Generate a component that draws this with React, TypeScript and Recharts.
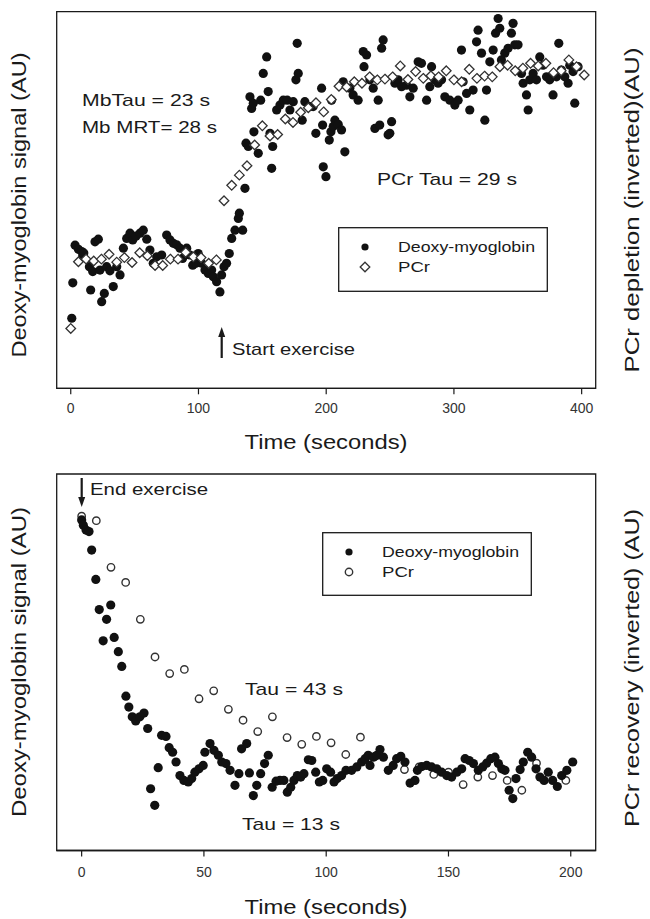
import React from "react";
import { ScatterChart, Scatter, XAxis, YAxis, Legend, ReferenceArea } from "recharts";

// exercise onset (top panel)
const exerciseMbTime = [
  0.8, 1.6, 3.4, 6, 8.6, 9.4, 10.2, 14.6, 15.6, 17.2, 19, 21.6, 22.9, 24.2, 26.3, 28.1, 30.7, 33.3, 36, 38.6,
  41.2, 43.8, 46.4, 48.5, 51.1, 54.2, 56.8, 59.5, 62, 64.6, 67.3, 71.2, 75.1, 77.7, 80.3, 82.9, 85.5, 87.6, 90.8, 93.3,
  95.5, 98, 99.8, 102.5, 105.1, 107.7, 110.3, 111.6, 114.2, 116.8, 118.1, 120, 122, 124.1, 126, 128.6, 131.2, 132, 134.6, 136.4,
  137.2, 139, 140.3, 141.6, 142.9, 143.4, 146.8, 148.7, 150.7, 153.4, 154.6, 156, 157.3, 158.1, 161.2, 163.8, 166.4, 169.5, 171.6, 174.2,
  176.3, 177.3, 178.1, 181.2, 183.3, 187.2, 189.8, 191.9, 196.4, 197.2, 197.7, 199.8, 202.4, 203.7,
  204.2, 205.5, 206.8, 209.4, 212, 213.3, 214.6, 218.5, 221.1, 225, 229, 229.6, 231.6, 234.2, 236.8, 238.1, 240.7, 241.9, 243.4, 244.6,
  248.5, 249.8, 251.2, 253.8, 256.3, 259, 262.9, 265.5, 268.1, 272, 274.6, 278.6, 281.1, 282.5, 285, 287.6, 290.3, 292.9, 296.8, 300.7,
  303.3, 305.9, 307.2, 309.9, 312.4, 315, 317.7, 318.9, 321.6, 324.2, 325.5, 328.1, 330.7, 332.6, 334.6, 335.9, 337.2, 339.8, 342.4, 345,
  346.3, 347.7, 350.2, 352.9, 354.2, 356.8, 358.1, 359.4, 362, 364.6, 367.2, 369.8, 372.5, 375, 377.6, 380.3, 382.1, 384.2, 386.8, 389.4,
  390.7, 393.3, 394.6, 397.2,
];
const exerciseMbSignal = [
  18.6, 28, 38, 36.9, 36.3, 35.1, 35.9, 32.3, 26.1, 31, 38.9, 39.6, 31.4, 23, 25.2, 32.3, 31.2, 27, 32.3, 30.1,
  37.2, 39.8, 41.2, 39.4, 40.4, 41.2, 42, 39.6, 36.7, 33.2, 34.9, 35.4, 40.7, 39.4, 38.5, 38.1, 37.2, 34.5, 37.2, 35.4,
  32.7, 33.2, 35.8, 33.2, 31.4, 30.5, 31.4, 29.6, 28.3, 25.6, 30.1, 32.3, 33.2, 35.8, 39.8, 42, 45.1, 46.5, 42, 53.1,
  65.1, 64.2, 77.4, 74.3, 75.7, 68.1, 62.4, 76.5, 83.6, 88, 78.8, 67.7, 58.4, 64.2, 73.9, 75.2, 76.5, 76.5, 73.9, 76.1,
  81.9, 91.6, 83.6, 71.2, 76.1, 74.8, 74.8, 67.7, 79.7, 69.9, 58.8, 56.2, 65.9, 68.1,
  76.5, 69.5, 71.2, 70.1, 68.6, 81.4, 62.8, 79.7, 77.9, 76.5, 89.4, 85.4, 88.5, 81.9, 79.7, 69, 76.5, 69.9, 90.3, 92.5,
  67.3, 67.7, 70.8, 81, 81.9, 80.1, 80.5, 77.4, 79.7, 86.7, 86.3, 76.5, 80.1, 85.4, 81.9, 81, 81.9, 77.4, 76.5, 75.2,
  76.5, 89.8, 81.4, 78.3, 73.9, 79.2, 92, 95.1, 89, 71.2, 79.2, 86.7, 89.8, 94.3, 98.2, 95.6, 87.2, 89, 90.3, 94.3,
  96.9, 91.2, 91.2, 83.6, 81, 77.9, 73.9, 81.9, 83.6, 81.9, 88, 85.8, 82.7, 81.9, 77.9, 82.7, 91.6, 84.5, 82.7, 81,
  85.8, 84.1, 75.7, 85.4,
];
const exercisePcrTime = [
  0, 6, 12, 18, 24, 30, 36, 42, 48, 54, 60, 66, 72, 78, 84, 90, 96, 102, 108, 114,
  120, 126, 132, 138, 144, 150, 156, 162, 168, 174, 180, 186, 192, 198, 204, 210, 216, 222, 228, 234,
  240, 246, 252, 258, 264, 270, 276, 282, 288, 294, 300, 306, 312, 318, 324, 330, 336, 342, 348, 354,
  360, 366, 372, 378, 384, 390, 396, 402,
];
const exercisePcrSignal = [
  15.9, 33.6, 34.3, 33.8, 34.3, 35.6, 33.5, 34.7, 33.4, 36, 35.2, 32.6, 32.6, 34.3, 34.3, 36.1, 34.9, 34.7, 33.2, 34.1,
  49.8, 53.9, 56.6, 59.1, 64.6, 69.7, 67, 67.4, 71.5, 70.6, 73.3, 74.5, 75.8, 73.4, 76.7, 80.2, 80, 81.4, 81, 82.7,
  81.9, 82.1, 82.7, 85.6, 82, 84.1, 82.3, 83, 82.7, 84.3, 81.9, 81.4, 84.7, 82.3, 82.9, 82.7, 85.4, 85.8, 84.3, 85,
  86.3, 85.6, 86.3, 83.8, 84.3, 87.2, 85.4, 83.2,
];
const exerciseTicks = [0, 100, 200, 300, 400];

// recovery (bottom panel)
const recoveryMbTime = [
  0, 0.7, 1.8, 3, 4.1, 5.8, 7.2, 8.8, 10.2, 11.9, 13.3, 15, 16.4, 18.1, 19.3, 20.7, 22.1, 23.8, 25.5, 27,
  28.2, 29.9, 31.3, 32.7, 34.5, 35.8, 37.2, 38.6, 40.2, 41.8, 43.6, 45, 46.3, 48, 49.7, 50.4, 52.5, 54.1, 55.9, 57.3,
  59, 60.7, 62.7, 64.3, 65.4, 67.5, 68.6, 70.2, 71.6, 73.2, 74.8, 76.3, 77.9, 79.5, 81.1, 82.7, 84.1, 85.5, 86.8, 88.2,
  89.6, 90.9, 92.7, 94.1, 95.7, 97.2, 98.6, 100.2, 101.8, 103.2, 104.5, 106.3, 108.1, 110.4, 112.5, 114.5, 115.9, 117.2, 117.9, 119.3,
  120.7, 122, 123.4, 125.4, 127.4, 128.8, 130.5, 132.2, 134.3, 136.3, 137.3, 139.1, 141.1, 143.1, 145.2, 147.2, 149.3, 151.3, 153.4, 155.4,
  156.8, 158.5, 160.2, 162.2, 164, 165.6, 167.3, 169, 170.4, 171.8, 173.1, 174.8, 176.3, 177.6, 179.3, 180.6, 182.4, 184, 185.8, 187.4,
  189.1, 190.8, 192.6, 194.5, 196.3, 198.4, 200.8,
];
const recoveryMbSignal = [
  87.8, 86.4, 85.1, 84.7, 79.8, 72, 64, 55.7, 61.4, 65.2, 56.6, 52.8, 48.9, 41, 38.1, 35.5, 34.4, 35.5, 36.5, 32.4,
  16.4, 12, 22, 30.6, 30.3, 27.3, 26.1, 23.5, 19.9, 18.6, 18.2, 19.1, 20.8, 21.7, 22.6, 26.1, 28.4, 26.6, 25.3, 23.5,
  23.1, 21.3, 17.3, 20.4, 27, 28.4, 20.6, 14.6, 17.3, 20.4, 23.1, 25.3, 16.8, 18.4, 18.6, 18.6, 15.5, 16.8, 18.6, 19.9,
  19.5, 20.4, 24.1, 23.9, 20.8, 18.2, 18.6, 21.7, 20.8, 18.2, 19.1, 19.9, 21.3, 21.3, 22.2, 23.5, 24.4, 25.3, 22.6, 24.8,
  25.3, 26.8, 24.8, 21.3, 22.6, 24.4, 25, 23.5, 17.9, 18.6, 21.3, 22.3, 22.6, 22.2, 21.7, 20.8, 19.9, 19.5, 20.8, 21.7,
  24.4, 23.9, 23.1, 21.3, 22.2, 23.2, 24.4, 24.8, 23.1, 21.7, 21.3, 16, 13.8, 19.1, 21.5, 23.5, 26.1, 24.8, 21.7, 19.5,
  18.6, 20.8, 18.6, 17, 19.9, 21.3, 23.5,
];
const recoveryPcrTime = [
  0, 6, 12, 18, 24, 30, 36, 42, 48, 54, 60, 66, 72, 78, 84, 90, 96, 102, 108, 114,
  120, 132, 138, 144, 150, 156, 162, 168, 174, 180, 186, 198,
];
const recoveryPcrSignal = [
  88.8, 87.6, 75.2, 71.2, 61.4, 51.4, 47, 48.1, 40.3, 42.4, 37.5, 34.6, 31.6, 35.5, 30, 28.2, 30.3, 28.6, 25.5, 30.1,
  25, 21.5, 22.2, 20.2, 20.8, 17.5, 19.5, 19.9, 18.6, 16, 23.2, 18.6,
];
const recoveryTicks = [0, 50, 100, 150, 200];

const seriesNames = ["Deoxy-myoglobin", "PCr"];

const FONT = "'Liberation Sans', Arial, sans-serif";
const INK = "#1a1a1a";

const zip = (t: number[], v: number[]) => t.map((x, i) => ({ t: x, v: v[i] }));

const Dot = (p: any) => <circle cx={p.cx} cy={p.cy} r={4.6} fill="#111" />;
const SmallDot = (p: any) => <circle cx={p.cx} cy={p.cy} r={3.6} fill="#111" />;
const Diamond = (p: any) => (
  <path
    d={`M${p.cx},${p.cy - 4.8}L${p.cx + 4.8},${p.cy}L${p.cx},${p.cy + 4.8}L${p.cx - 4.8},${p.cy}Z`}
    fill="#fff"
    stroke="#333"
    strokeWidth={1.3}
  />
);
const Ring = (p: any) => <circle cx={p.cx} cy={p.cy} r={3.7} fill="#fff" stroke="#333" strokeWidth={1.4} />;

function Txt({ x, y, len, size = 17, anchor = "start", rot = false, children }: any) {
  return (
    <text
      x={x}
      y={y}
      fontSize={size}
      fontFamily={FONT}
      fill={INK}
      textAnchor={anchor}
      dominantBaseline={rot ? "central" : undefined}
      textLength={len}
      lengthAdjust="spacingAndGlyphs"
      transform={rot ? `rotate(${rot} ${x} ${y})` : undefined}
    >
      {children}
    </text>
  );
}

function LegendBox({ w, h, pcrMarker }: any) {
  return (
    <svg width={w} height={h} style={{ display: "block" }}>
      <rect x={0.7} y={0.7} width={w - 1.4} height={h - 1.4} fill="#fff" stroke={INK} strokeWidth={1.3} />
      <SmallDot cx={27} cy={20} />
      {pcrMarker === "diamond" ? <Diamond cx={27} cy={40} /> : <Ring cx={27} cy={40} />}
      <Txt x={60} y={25} size={15} len={137}>{seriesNames[0]}</Txt>
      <Txt x={60} y={45} size={15} len={32}>{seriesNames[1]}</Txt>
    </svg>
  );
}

function Panel({ top, height, plotTop, plotBottom, domain, ticks, mb, pcr, pcrMarker, legend, tickMargin }: any) {
  const mbSeries = (
    <Scatter key="mb" name={seriesNames[0]} data={mb} shape={Dot} isAnimationActive={false} />
  );
  const pcrSeries = (
    <Scatter
      key="pcr"
      name={seriesNames[1]}
      data={pcr}
      shape={pcrMarker === "diamond" ? Diamond : Ring}
      isAnimationActive={false}
    />
  );
  return (
    <div style={{ position: "absolute", left: 0, top }}>
      <ScatterChart
        width={650}
        height={height}
        margin={{ top: plotTop - top, right: 54.3, bottom: 0, left: 56.7 }}
      >
        <XAxis
          dataKey="t"
          type="number"
          domain={domain}
          ticks={ticks}
          interval={0}
          allowDataOverflow
          height={height - (plotBottom - top)}
          tickSize={6}
          tickMargin={tickMargin}
          axisLine={{ stroke: INK, strokeWidth: 1.3 }}
          tickLine={{ stroke: INK, strokeWidth: 1.2 }}
          tick={{ fontSize: 14, fill: "#333", fontFamily: FONT }}
        />
        <YAxis dataKey="v" type="number" domain={[0, 100]} allowDataOverflow hide />
        <ReferenceArea
          x1={domain[0]}
          x2={domain[1]}
          y1={0}
          y2={100}
          fill="none"
          fillOpacity={0}
          stroke={INK}
          strokeWidth={1.3}
          strokeOpacity={1}
          ifOverflow="visible"
        />
        {pcrMarker === "diamond" ? [mbSeries, pcrSeries] : [pcrSeries, mbSeries]}
        <Legend
          layout="vertical"
          verticalAlign="middle"
          align="center"
          wrapperStyle={{ position: "absolute", left: legend.x, top: legend.y - top, width: legend.w, height: legend.h }}
          content={() => <LegendBox w={legend.w} h={legend.h} pcrMarker={pcrMarker} />}
        />
      </ScatterChart>
    </div>
  );
}

export default function App() {
  return (
    <div style={{ position: "absolute", left: 0, top: 0, width: 650, height: 919, background: "#fff" }}>
      <Panel
        top={0}
        height={460}
        plotTop={11.7}
        plotBottom={388.3}
        domain={[-11, 411]}
        ticks={exerciseTicks}
        mb={zip(exerciseMbTime, exerciseMbSignal)}
        pcr={zip(exercisePcrTime, exercisePcrSignal)}
        pcrMarker="diamond"
        tickMargin={9}
        legend={{ x: 338, y: 227, w: 210, h: 65 }}
      />
      <Panel
        top={460}
        height={459}
        plotTop={474}
        plotBottom={850.5}
        domain={[-10.2, 210.2]}
        ticks={recoveryTicks}
        mb={zip(recoveryMbTime, recoveryMbSignal)}
        pcr={zip(recoveryPcrTime, recoveryPcrSignal)}
        pcrMarker="ring"
        tickMargin={11}
        legend={{ x: 322, y: 532, w: 210, h: 64 }}
      />
      <svg width={650} height={919} style={{ position: "absolute", left: 0, top: 0, pointerEvents: "none" }}>
        {/* top panel text */}
        <Txt x={326} y={449} size={21} len={163} anchor="middle">Time (seconds)</Txt>
        <Txt x={19} y={205} size={20} len={305} anchor="middle" rot={-90}>Deoxy-myoglobin signal (AU)</Txt>
        <Txt x={632} y={210} size={20} len={325} anchor="middle" rot={-90}>PCr depletion (inverted)(AU)</Txt>
        <Txt x={82} y={106} len={128}>MbTau = 23 s</Txt>
        <Txt x={82} y={133} len={135}>Mb MRT= 28 s</Txt>
        <Txt x={377} y={185} len={140}>PCr Tau = 29 s</Txt>
        <Txt x={232} y={355} len={123}>Start exercise</Txt>
        <line x1={221.7} y1={358} x2={221.7} y2={334} stroke={INK} strokeWidth={2.2} />
        <polygon points="221.7,327 218.2,337 225.2,337" fill={INK} />
        {/* bottom panel text */}
        <Txt x={326} y={914} size={21} len={163} anchor="middle">Time (seconds)</Txt>
        <Txt x={19} y={662} size={20} len={310} anchor="middle" rot={-90}>Deoxy-myoglobin signal (AU)</Txt>
        <Txt x={632} y={668} size={20} len={318} anchor="middle" rot={-90}>PCr recovery (inverted) (AU)</Txt>
        <Txt x={90} y={495} len={118}>End exercise</Txt>
        <line x1={81.7} y1={478} x2={81.7} y2={500} stroke={INK} strokeWidth={2.2} />
        <polygon points="81.7,507 78.2,497 85.2,497" fill={INK} />
        <Txt x={245} y={695} len={98}>Tau = 43 s</Txt>
        <Txt x={242} y={830} len={98}>Tau = 13 s</Txt>
      </svg>
    </div>
  );
}
